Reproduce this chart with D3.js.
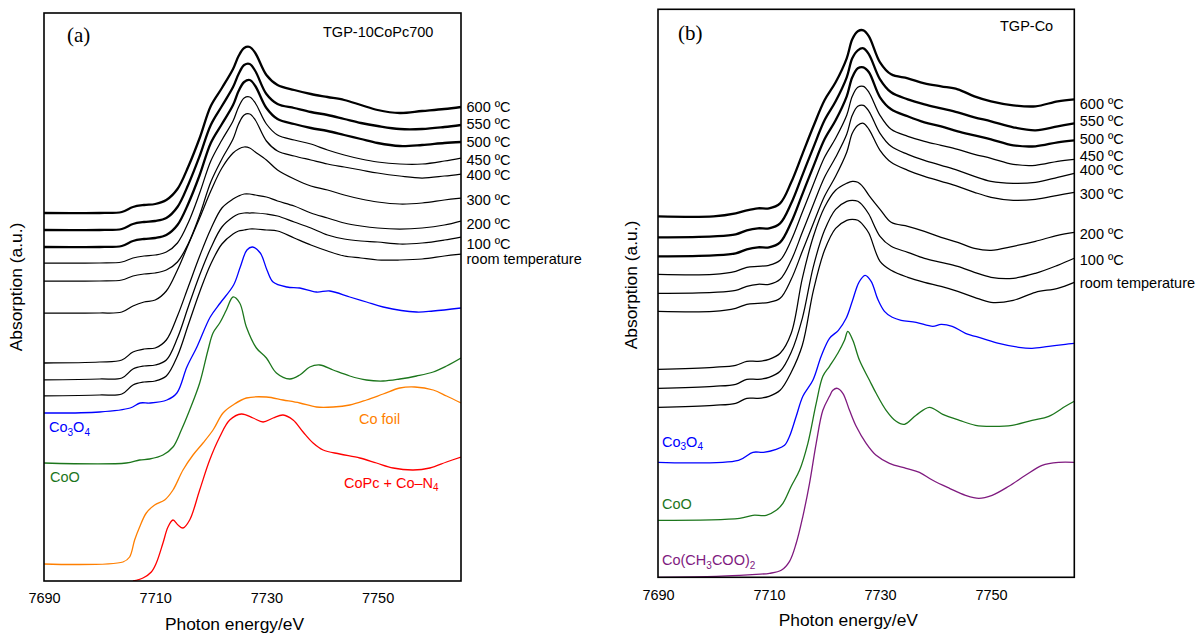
<!DOCTYPE html>
<html><head><meta charset="utf-8">
<script src="https://cdn.jsdelivr.net/npm/d3@7"></script>
<style>
body{margin:0;background:#fff}
text{font-family:"Liberation Sans",Arial,sans-serif;fill:#000}
</style>
</head><body>
<svg id="c" width="1199" height="633"></svg>
<script>
// ---------- shared energy grid for the in-situ spectra (eV) ----------
const energyGrid = [7690,7700,7704,7706,7708,7710,7712,7714,7716,7718,7720,7722,7724,7725,7726,7727,7728,7730,7732,7735,7738,7741,7744,7747,7750,7754,7758,7762,7765];
const xTicks = [7690,7710,7730,7750];
const tempNames = ["600 ºC","550 ºC","500 ºC","450 ºC","400 ºC","300 ºC","200 ºC","100 ºC","room temperature"];

// ---------- panel (a) TGP-10CoPc700 ----------
const a600 = [3.68,3.68,3.69,3.74,3.76,3.77,3.81,3.92,4.15,4.43,4.75,4.93,5.12,5.25,5.33,5.34,5.28,5.06,4.96,4.91,4.87,4.84,4.81,4.76,4.71,4.68,4.70,4.72,4.74];
const a550 = [3.51,3.51,3.52,3.57,3.59,3.60,3.63,3.74,3.97,4.25,4.56,4.75,4.94,5.07,5.16,5.17,5.10,4.87,4.77,4.73,4.69,4.66,4.62,4.58,4.55,4.52,4.52,4.54,4.56];
const a500 = [3.34,3.34,3.35,3.40,3.42,3.43,3.46,3.56,3.78,4.06,4.38,4.57,4.76,4.90,4.99,5.01,4.95,4.73,4.62,4.57,4.53,4.50,4.46,4.42,4.38,4.35,4.36,4.38,4.39];
const a450 = [3.18,3.18,3.19,3.23,3.25,3.26,3.29,3.38,3.59,3.88,4.20,4.41,4.60,4.74,4.83,4.84,4.78,4.57,4.46,4.41,4.37,4.31,4.26,4.22,4.19,4.17,4.17,4.20,4.23];
const a400 = [3.00,3.00,3.01,3.05,3.07,3.08,3.11,3.19,3.38,3.66,3.99,4.22,4.42,4.57,4.66,4.67,4.61,4.40,4.30,4.25,4.21,4.17,4.14,4.11,4.08,4.05,4.03,4.05,4.07];
const a300 = [2.68,2.68,2.69,2.75,2.79,2.81,2.90,3.11,3.37,3.63,3.90,4.13,4.28,4.32,4.34,4.33,4.29,4.21,4.11,4.02,3.95,3.91,3.86,3.82,3.79,3.77,3.78,3.81,3.83];
const a200 = [2.18,2.19,2.21,2.29,2.32,2.33,2.41,2.65,2.95,3.25,3.52,3.73,3.82,3.85,3.87,3.87,3.86,3.84,3.80,3.75,3.68,3.63,3.58,3.55,3.53,3.52,3.53,3.56,3.60];
const a100 = [2.01,2.02,2.03,2.12,2.15,2.16,2.21,2.43,2.75,3.06,3.33,3.54,3.64,3.67,3.68,3.68,3.68,3.67,3.65,3.59,3.53,3.46,3.42,3.40,3.39,3.37,3.38,3.41,3.44];
const aRT  = [1.85,1.86,1.87,1.96,1.99,2.00,2.05,2.25,2.57,2.89,3.17,3.37,3.47,3.50,3.51,3.52,3.52,3.51,3.50,3.43,3.36,3.30,3.25,3.23,3.21,3.21,3.22,3.25,3.27];

const co3o4A_E = [7690,7700,7705.5,7707.3,7709.1,7712.1,7713.9,7715.7,7717.5,7719.9,7721.7,7724.1,7725.3,7726.5,7727.5,7728.9,7730.1,7731.2,7733.7,7736,7739,7741.4,7745,7748,7751,7757,7760,7765];
const co3o4A   = [1.68,1.69,1.73,1.78,1.78,1.81,1.88,2.14,2.34,2.64,2.78,2.96,3.14,3.31,3.34,3.28,3.11,2.99,2.94,2.93,2.89,2.90,2.84,2.79,2.74,2.69,2.70,2.73];
const coOA_E = [7690,7704.8,7707.2,7709,7711.4,7713.2,7714.7,7716.2,7718,7719.5,7720.4,7721.6,7722.8,7724,7725.2,7726.4,7728.2,7730,7731.8,7734.2,7736,7737.8,7739.6,7742,7745,7748,7751,7754,7757,7760,7762.4,7765];
const coOA   = [1.18,1.18,1.21,1.22,1.26,1.34,1.51,1.71,1.98,2.31,2.48,2.58,2.71,2.84,2.78,2.54,2.33,2.23,2.08,2.02,2.06,2.14,2.16,2.11,2.05,2.01,2.00,2.02,2.05,2.09,2.15,2.23];
const coFoilA_E = [7690,7704.2,7705.4,7706.3,7707.2,7708.4,7709.9,7711.7,7713.2,7715,7716.8,7718.6,7720.4,7722.2,7724,7726.4,7730,7733,7736,7739,7742,7745,7748,7751,7754,7756.7,7760,7762.4,7765];
const coFoilA   = [0.17,0.19,0.24,0.41,0.54,0.68,0.76,0.81,0.91,1.11,1.26,1.38,1.51,1.68,1.76,1.83,1.84,1.81,1.78,1.74,1.74,1.76,1.81,1.87,1.93,1.94,1.91,1.85,1.78];
const coPcA_E = [7706,7707.8,7709.3,7710.2,7711.4,7712.3,7713.2,7714.1,7715,7716.2,7718,7719.8,7721.6,7723.4,7725.5,7727.6,7729.4,7731.2,7733,7734.8,7736.6,7738.4,7740.2,7743.2,7746.8,7749.8,7752.8,7756.4,7759.4,7762.4,7765];
const coPcA   = [0.00,0.03,0.09,0.18,0.38,0.54,0.61,0.56,0.53,0.61,0.91,1.21,1.44,1.61,1.67,1.63,1.59,1.63,1.66,1.61,1.49,1.38,1.31,1.27,1.23,1.18,1.13,1.11,1.13,1.19,1.24];

// ---------- panel (b) TGP-Co ----------
const b600 = [3.61,3.61,3.64,3.67,3.69,3.69,3.74,3.95,4.23,4.51,4.77,4.95,5.19,5.38,5.46,5.47,5.41,5.15,5.03,4.99,4.94,4.91,4.88,4.81,4.76,4.72,4.71,4.76,4.78];
const b550 = [3.40,3.41,3.43,3.47,3.49,3.49,3.54,3.74,4.02,4.30,4.57,4.76,5.00,5.19,5.27,5.29,5.23,4.98,4.85,4.78,4.73,4.69,4.65,4.60,4.56,4.50,4.47,4.51,4.54];
const b500 = [3.21,3.22,3.24,3.28,3.30,3.30,3.35,3.55,3.83,4.11,4.38,4.57,4.81,5.00,5.09,5.10,5.05,4.80,4.68,4.61,4.55,4.51,4.46,4.42,4.38,4.32,4.31,4.35,4.37];
const b450 = [3.03,3.03,3.06,3.10,3.11,3.12,3.17,3.37,3.65,3.93,4.20,4.39,4.62,4.81,4.90,4.91,4.85,4.62,4.48,4.41,4.36,4.32,4.28,4.23,4.19,4.13,4.12,4.16,4.18];
const b400 = [2.84,2.85,2.87,2.91,2.93,2.93,2.98,3.17,3.45,3.73,4.00,4.20,4.43,4.62,4.71,4.72,4.66,4.44,4.31,4.23,4.17,4.12,4.07,4.01,3.96,3.94,3.95,4.00,4.04];
const b300 = [2.66,2.66,2.69,2.73,2.74,2.75,2.79,2.98,3.26,3.54,3.81,4.01,4.25,4.44,4.52,4.54,4.48,4.27,4.15,4.07,4.01,3.96,3.91,3.85,3.80,3.77,3.78,3.82,3.85];
const b200 = [2.08,2.10,2.12,2.16,2.16,2.18,2.24,2.44,2.99,3.41,3.70,3.87,3.94,3.96,3.95,3.90,3.82,3.68,3.55,3.51,3.46,3.40,3.35,3.29,3.27,3.31,3.36,3.42,3.45];
const b100 = [1.89,1.91,1.93,1.98,1.98,2.00,2.06,2.25,2.59,3.11,3.47,3.68,3.76,3.77,3.76,3.71,3.63,3.41,3.31,3.25,3.19,3.15,3.11,3.05,3.00,2.99,3.04,3.12,3.19];
const bRT  = [1.70,1.72,1.74,1.79,1.79,1.81,1.87,2.05,2.32,2.87,3.27,3.49,3.57,3.58,3.57,3.52,3.44,3.16,3.07,3.00,2.95,2.91,2.86,2.80,2.75,2.77,2.85,2.89,2.95];

const co3o4B_E = [7690,7704.5,7707.1,7709,7711.3,7712.8,7713.7,7714.9,7716.1,7717.9,7719.4,7720.9,7722.5,7723.9,7725,7726.2,7727.3,7728.4,7729.6,7730.8,7732.2,7733.8,7736.5,7739.5,7741,7743,7745.4,7748.4,7751.4,7755,7757.4,7760.4,7763.4,7765];
const co3o4B   = [1.15,1.17,1.25,1.25,1.28,1.32,1.41,1.61,1.81,1.97,2.21,2.39,2.47,2.59,2.76,2.95,3.02,2.96,2.78,2.66,2.60,2.57,2.55,2.51,2.53,2.51,2.44,2.39,2.34,2.30,2.29,2.31,2.33,2.34];
const coOB_E = [7690,7704.7,7707.1,7709.5,7711.3,7712.5,7714,7715.5,7717,7718.5,7719.7,7720.9,7722.4,7723.6,7724.2,7725.1,7726.3,7728.1,7729.3,7731.1,7732.9,7734.4,7736.5,7738.9,7741.3,7744.3,7747.2,7750.2,7753.8,7757.4,7760.4,7763.4,7765];
const coOB   = [0.57,0.59,0.62,0.62,0.67,0.74,0.91,1.07,1.34,1.74,2.01,2.11,2.24,2.37,2.46,2.37,2.17,1.97,1.84,1.67,1.56,1.53,1.62,1.70,1.63,1.57,1.52,1.51,1.52,1.57,1.61,1.71,1.76];
const coAcB_E = [7690,7700.5,7704.7,7707.7,7710.1,7712.2,7713.7,7714.9,7716.1,7717.3,7718.5,7719.7,7720.9,7721.5,7722.3,7723.3,7724.5,7725.7,7727.5,7729.3,7731.7,7734.7,7737.1,7739.5,7742.5,7745.4,7747.8,7750.2,7753.2,7756.2,7759.2,7762.2,7765];
const coAcB   = [0.00,0.01,0.02,0.03,0.04,0.07,0.16,0.34,0.61,0.94,1.34,1.67,1.81,1.87,1.89,1.84,1.67,1.51,1.34,1.22,1.14,1.09,1.05,0.97,0.89,0.82,0.79,0.82,0.91,1.02,1.12,1.15,1.15];

// ---------- drawing ----------
const svg = d3.select("#c");
const FS = 14.5;
const COL = {blue:"#0000ff", green:"#1c761c", orange:"#ff7f00", red:"#ff0000", purple:"#7f1a7f"};

function drawPanel(p) {
  const x = d3.scaleLinear().domain([7690, 7765]).range([p.left, p.right]);
  const y = d3.scaleLinear().domain([0, 5.68]).range([p.bottom, p.top]);
  const g = svg.append("g");
  const clipId = "clip" + p.id;
  svg.append("clipPath").attr("id", clipId).append("rect")
    .attr("x", p.left).attr("y", p.top).attr("width", p.right - p.left).attr("height", p.bottom - p.top);
  const line = d3.line().x(d => x(d[0])).y(d => y(d[1])).curve(d3.curveCatmullRom.alpha(0.5));
  const cg = g.append("g").attr("clip-path", `url(#${clipId})`);

  p.refs.forEach(r => {
    cg.append("path").attr("d", line(d3.zip(r.E, r.v)))
      .attr("fill", "none").attr("stroke", r.color).attr("stroke-width", 1.3);
  });
  p.series.forEach((s, i) => {
    cg.append("path").attr("d", line(d3.zip(energyGrid, s)))
      .attr("fill", "none").attr("stroke", "#000")
      .attr("stroke-width", i < 3 ? 2.3 : 1.25).attr("stroke-linejoin", "round");
    g.append("text").attr("x", p.right + 5.5)
      .attr("y", y(s[s.length - 1]) + p.nudges[i]).attr("dy", "0.36em")
      .style("font-size", FS + "px").text(tempNames[i]);
  });

  g.append("rect").attr("x", p.left).attr("y", p.top)
    .attr("width", p.right - p.left).attr("height", p.bottom - p.top)
    .attr("fill", "none").attr("stroke", "#000").attr("stroke-width", 1.6);

  const ax = g.append("g").attr("transform", `translate(0,${p.bottom})`)
    .call(d3.axisBottom(x).tickValues(xTicks).tickFormat(d3.format("d")).tickSize(0).tickPadding(p.tickPad));
  ax.select(".domain").remove();
  ax.selectAll("text").style("font-size", FS + "px").style("font-family", '"Liberation Sans",Arial,sans-serif').attr("fill", "#000");

  g.append("text").attr("x", p.xTitleX).attr("y", p.xTitleY).attr("text-anchor", "middle")
    .style("font-size", "17.4px").text("Photon energy/eV");
  g.append("text").attr("transform", `translate(${p.yTitleX},${p.yTitleY}) rotate(-90)`)
    .attr("text-anchor", "middle").style("font-size", "17.4px").text("Absorption (a.u.)");
  g.append("text").attr("x", p.tagX).attr("y", p.tagY)
    .style("font-family", '"Liberation Serif","Times New Roman",serif').style("font-size", "21px").text(p.tag);
  g.append("text").attr("x", p.sampleX).attr("y", p.sampleY).style("font-size", FS + "px").text(p.sample);

  p.refLabels.forEach(l => {
    const t = g.append("text").attr("x", l.x).attr("y", l.y).style("font-size", FS + "px").style("fill", l.color);
    let shifted = false;
    l.parts.forEach(part => {
      if (part.sub) {
        t.append("tspan").attr("dy", shifted ? 0 : 3.5).style("font-size", "10px").text(part.sub);
        shifted = true;
      } else {
        const ts = t.append("tspan").text(part.t);
        if (shifted) { ts.attr("dy", -3.5); shifted = false; }
      }
    });
  });
}

drawPanel({
  id: "a", left: 44, right: 461, top: 13, bottom: 581, tickPad: 12,
  xTitleX: 234.5, xTitleY: 629.5, yTitleX: 22, yTitleY: 287,
  tag: "(a)", tagX: 67, tagY: 42, sample: "TGP-10CoPc700", sampleX: 323, sampleY: 36.5,
  series: [a600, a550, a500, a450, a400, a300, a200, a100, aRT],
  nudges: [0, -1.7, 0, 1.3, 1, 1.3, 2.3, 6.3, 4.3],
  refs: [
    {E: co3o4A_E, v: co3o4A, color: COL.blue},
    {E: coOA_E, v: coOA, color: COL.green},
    {E: coFoilA_E, v: coFoilA, color: COL.orange},
    {E: coPcA_E, v: coPcA, color: COL.red}
  ],
  refLabels: [
    {x: 49, y: 432, color: COL.blue, parts: [{t:"Co"},{sub:"3"},{t:"O"},{sub:"4"}]},
    {x: 50, y: 482, color: COL.green, parts: [{t:"CoO"}]},
    {x: 359, y: 424, color: COL.orange, parts: [{t:"Co foil"}]},
    {x: 344, y: 487.5, color: COL.red, parts: [{t:"CoPc + Co\u2013N"},{sub:"4"}]}
  ]
});

drawPanel({
  id: "b", left: 658, right: 1074.3, top: 9.3, bottom: 577.3, tickPad: 12.4,
  xTitleX: 848.3, xTitleY: 626, yTitleX: 636.5, yTitleY: 285,
  tag: "(b)", tagX: 678, tagY: 39.5, sample: "TGP-Co", sampleX: 1000, sampleY: 31.2,
  series: [b600, b550, b500, b450, b400, b300, b200, b100, bRT],
  nudges: [4, -2.3, -2, -3.3, -3.3, 1.7, 1.7, 1, 0],
  refs: [
    {E: co3o4B_E, v: co3o4B, color: COL.blue},
    {E: coOB_E, v: coOB, color: COL.green},
    {E: coAcB_E, v: coAcB, color: COL.purple}
  ],
  refLabels: [
    {x: 662, y: 446.7, color: COL.blue, parts: [{t:"Co"},{sub:"3"},{t:"O"},{sub:"4"}]},
    {x: 662, y: 509.3, color: COL.green, parts: [{t:"CoO"}]},
    {x: 662, y: 565, color: COL.purple, parts: [{t:"Co(CH"},{sub:"3"},{t:"COO)"},{sub:"2"}]}
  ]
});
</script>
</body></html>
